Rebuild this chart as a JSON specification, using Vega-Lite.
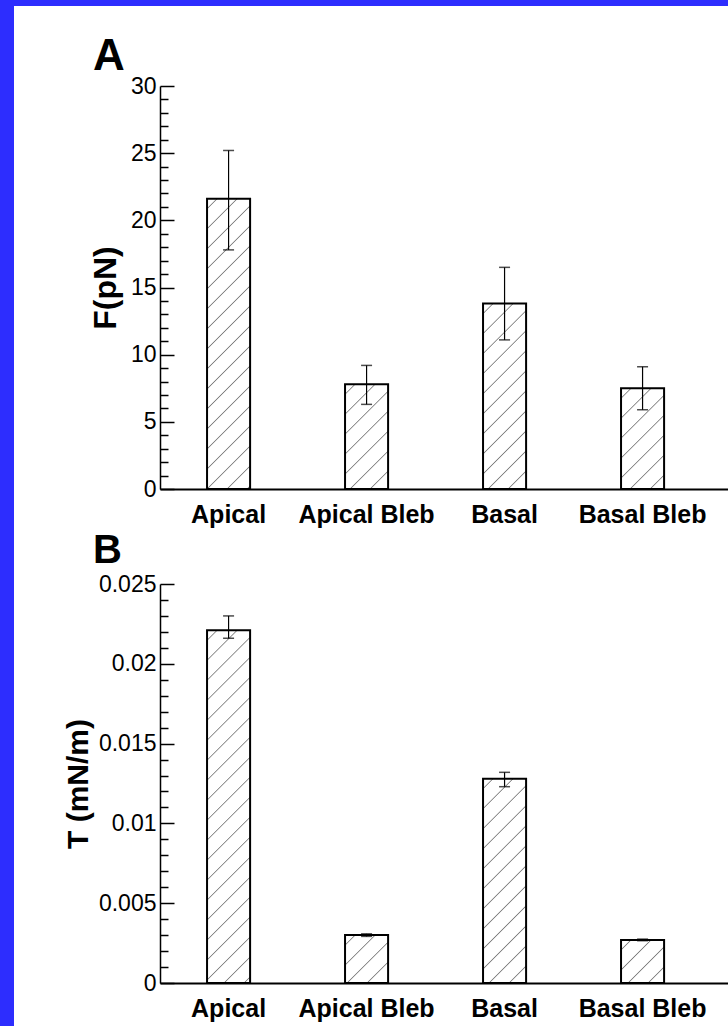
{
  "$schema": "https://vega.github.io/schema/vega-lite/v6.json",
  "background": "#2d2dfe",
  "padding": {"left": 14, "top": 6, "right": 0, "bottom": 0},
  "spacing": 0,
  "config": {
    "view": {"fill": "white", "stroke": null},
    "font": "Liberation Sans"
  },
  "vconcat": [
    {
      "width": 714,
      "height": 524,
      "title": {"text": "A", "anchor": "start", "frame": "group", "fontSize": 44, "font": "Liberation Sans", "fontWeight": "bold", "color": "black", "offset": -73, "dx": 79},
      "data": {"values": [
        {"cond": "Apical", "F": 21.6, "lo": 17.8, "hi": 25.2},
        {"cond": "Apical Bleb", "F": 7.8, "lo": 6.3, "hi": 9.2},
        {"cond": "Basal", "F": 13.8, "lo": 11.1, "hi": 16.5},
        {"cond": "Basal Bleb", "F": 7.5, "lo": 5.9, "hi": 9.1}
      ]},
      "encoding": {
        "x": {"field": "cond", "type": "nominal", "sort": null,
          "scale": {"domain": ["Apical", "Apical Bleb", "Basal", "Basal Bleb"], "range": [146, 714], "paddingInner": 0.688, "paddingOuter": 0.402, "align": 0.424},
          "axis": {"orient": "bottom", "offset": -41, "ticks": false, "domain": true, "domainColor": "black", "domainWidth": 2, "labelFont": "Liberation Sans", "labelFontSize": 25, "labelFontWeight": "bold", "labelColor": "black", "labelPadding": 13, "labelAngle": 0, "title": null}}
      },
      "layer": [
        {
          "transform": [{"filter": "datum.cond === 'Apical'"}],
          "mark": {"type": "bar", "stroke": "black", "strokeWidth": 2,
            "fill": {"gradient": "linear", "x1": 0, "y1": 0, "x2": 0.1666, "y2": 1.1236, "stops": [
              {"offset": 0.0264, "color": "white"}, {"offset": 0.0300, "color": "#808080"}, {"offset": 0.0336, "color": "white"},
              {"offset": 0.0865, "color": "white"}, {"offset": 0.0901, "color": "#808080"}, {"offset": 0.0937, "color": "white"},
              {"offset": 0.1466, "color": "white"}, {"offset": 0.1502, "color": "#808080"}, {"offset": 0.1538, "color": "white"},
              {"offset": 0.2066, "color": "white"}, {"offset": 0.2102, "color": "#808080"}, {"offset": 0.2138, "color": "white"},
              {"offset": 0.2667, "color": "white"}, {"offset": 0.2703, "color": "#808080"}, {"offset": 0.2739, "color": "white"},
              {"offset": 0.3267, "color": "white"}, {"offset": 0.3303, "color": "#808080"}, {"offset": 0.3339, "color": "white"},
              {"offset": 0.3868, "color": "white"}, {"offset": 0.3904, "color": "#808080"}, {"offset": 0.3940, "color": "white"},
              {"offset": 0.4469, "color": "white"}, {"offset": 0.4505, "color": "#808080"}, {"offset": 0.4541, "color": "white"},
              {"offset": 0.5069, "color": "white"}, {"offset": 0.5105, "color": "#808080"}, {"offset": 0.5141, "color": "white"},
              {"offset": 0.5670, "color": "white"}, {"offset": 0.5706, "color": "#808080"}, {"offset": 0.5742, "color": "white"},
              {"offset": 0.6270, "color": "white"}, {"offset": 0.6306, "color": "#808080"}, {"offset": 0.6342, "color": "white"},
              {"offset": 0.6871, "color": "white"}, {"offset": 0.6907, "color": "#808080"}, {"offset": 0.6943, "color": "white"},
              {"offset": 0.7472, "color": "white"}, {"offset": 0.7508, "color": "#808080"}, {"offset": 0.7544, "color": "white"},
              {"offset": 0.8072, "color": "white"}, {"offset": 0.8108, "color": "#808080"}, {"offset": 0.8144, "color": "white"},
              {"offset": 0.8673, "color": "white"}, {"offset": 0.8709, "color": "#808080"}, {"offset": 0.8745, "color": "white"},
              {"offset": 0.9273, "color": "white"}, {"offset": 0.9309, "color": "#808080"}, {"offset": 0.9345, "color": "white"},
              {"offset": 0.9874, "color": "white"}, {"offset": 0.9910, "color": "#808080"}, {"offset": 0.9946, "color": "white"}
            ]}},
          "encoding": {
            "y": {"field": "F", "type": "quantitative",
              "scale": {"domain": [0, 30], "range": [483, 80], "nice": false, "zero": true},
              "axis": {"orient": "left", "offset": -146, "values": [0, 5, 10, 15, 20, 25, 30], "labelExpr": "'' + datum.value", "tickSize": -14, "tickWidth": 1.5, "tickColor": "black", "domain": true, "domainColor": "black", "domainWidth": 1.5, "labelFont": "Liberation Sans", "labelFontSize": 23, "labelColor": "black", "labelPadding": 18, "grid": false, "title": "F(pN)", "titleFont": "Liberation Sans", "titleFontSize": 32, "titleFontWeight": "bold", "titleColor": "black", "titlePadding": 8}
            }
          }
        },
        {
          "transform": [{"filter": "datum.cond === 'Apical Bleb'"}],
          "mark": {"type": "bar", "stroke": "black", "strokeWidth": 2,
            "fill": {"gradient": "linear", "x1": 0, "y1": 0, "x2": 0.4943, "y2": 1.2071, "stops": [
              {"offset": 0.0595, "color": "white"}, {"offset": 0.0676, "color": "#808080"}, {"offset": 0.0757, "color": "white"},
              {"offset": 0.1946, "color": "white"}, {"offset": 0.2027, "color": "#808080"}, {"offset": 0.2108, "color": "white"},
              {"offset": 0.3297, "color": "white"}, {"offset": 0.3378, "color": "#808080"}, {"offset": 0.3459, "color": "white"},
              {"offset": 0.4649, "color": "white"}, {"offset": 0.4730, "color": "#808080"}, {"offset": 0.4811, "color": "white"},
              {"offset": 0.6000, "color": "white"}, {"offset": 0.6081, "color": "#808080"}, {"offset": 0.6162, "color": "white"},
              {"offset": 0.7351, "color": "white"}, {"offset": 0.7432, "color": "#808080"}, {"offset": 0.7513, "color": "white"},
              {"offset": 0.8703, "color": "white"}, {"offset": 0.8784, "color": "#808080"}, {"offset": 0.8865, "color": "white"}
            ]}},
          "encoding": {"y": {"field": "F", "type": "quantitative", "axis": null}}
        },
        {
          "transform": [{"filter": "datum.cond === 'Basal'"}],
          "mark": {"type": "bar", "stroke": "black", "strokeWidth": 2,
            "fill": {"gradient": "linear", "x1": 0, "y1": 0, "x2": 0.2718, "y2": 1.1693, "stops": [
              {"offset": 0.0386, "color": "white"}, {"offset": 0.0439, "color": "#808080"}, {"offset": 0.0492, "color": "white"},
              {"offset": 0.1263, "color": "white"}, {"offset": 0.1316, "color": "#808080"}, {"offset": 0.1369, "color": "white"},
              {"offset": 0.2140, "color": "white"}, {"offset": 0.2193, "color": "#808080"}, {"offset": 0.2246, "color": "white"},
              {"offset": 0.3017, "color": "white"}, {"offset": 0.3070, "color": "#808080"}, {"offset": 0.3123, "color": "white"},
              {"offset": 0.3894, "color": "white"}, {"offset": 0.3947, "color": "#808080"}, {"offset": 0.4000, "color": "white"},
              {"offset": 0.4772, "color": "white"}, {"offset": 0.4825, "color": "#808080"}, {"offset": 0.4878, "color": "white"},
              {"offset": 0.5649, "color": "white"}, {"offset": 0.5702, "color": "#808080"}, {"offset": 0.5755, "color": "white"},
              {"offset": 0.6526, "color": "white"}, {"offset": 0.6579, "color": "#808080"}, {"offset": 0.6632, "color": "white"},
              {"offset": 0.7403, "color": "white"}, {"offset": 0.7456, "color": "#808080"}, {"offset": 0.7509, "color": "white"},
              {"offset": 0.8280, "color": "white"}, {"offset": 0.8333, "color": "#808080"}, {"offset": 0.8386, "color": "white"},
              {"offset": 0.9158, "color": "white"}, {"offset": 0.9211, "color": "#808080"}, {"offset": 0.9264, "color": "white"}
            ]}},
          "encoding": {"y": {"field": "F", "type": "quantitative", "axis": null}}
        },
        {
          "transform": [{"filter": "datum.cond === 'Basal Bleb'"}],
          "mark": {"type": "bar", "stroke": "black", "strokeWidth": 2,
            "fill": {"gradient": "linear", "x1": 0, "y1": 0, "x2": 0.5139, "y2": 1.2070, "stops": [
              {"offset": 0.0611, "color": "white"}, {"offset": 0.0694, "color": "#808080"}, {"offset": 0.0777, "color": "white"},
              {"offset": 0.2000, "color": "white"}, {"offset": 0.2083, "color": "#808080"}, {"offset": 0.2166, "color": "white"},
              {"offset": 0.3389, "color": "white"}, {"offset": 0.3472, "color": "#808080"}, {"offset": 0.3555, "color": "white"},
              {"offset": 0.4778, "color": "white"}, {"offset": 0.4861, "color": "#808080"}, {"offset": 0.4944, "color": "white"},
              {"offset": 0.6167, "color": "white"}, {"offset": 0.6250, "color": "#808080"}, {"offset": 0.6333, "color": "white"},
              {"offset": 0.7556, "color": "white"}, {"offset": 0.7639, "color": "#808080"}, {"offset": 0.7722, "color": "white"},
              {"offset": 0.8945, "color": "white"}, {"offset": 0.9028, "color": "#808080"}, {"offset": 0.9111, "color": "white"}
            ]}},
          "encoding": {"y": {"field": "F", "type": "quantitative", "axis": null}}
        },
        {
          "mark": {"type": "rule", "stroke": "black", "strokeWidth": 1.2},
          "encoding": {
            "y": {"field": "lo", "type": "quantitative",
              "axis": {"orient": "left", "offset": -146, "values": [1, 2, 3, 4, 6, 7, 8, 9, 11, 12, 13, 14, 16, 17, 18, 19, 21, 22, 23, 24, 26, 27, 28, 29], "tickSize": -8, "tickWidth": 1.5, "tickColor": "black", "labels": false, "domain": false, "grid": false, "title": null}},
            "y2": {"field": "hi"}
          }
        },
        {
          "mark": {"type": "tick", "color": "black", "size": 11, "thickness": 1.5},
          "encoding": {"y": {"field": "lo", "type": "quantitative", "axis": null}}
        },
        {
          "mark": {"type": "tick", "color": "black", "size": 11, "thickness": 1.5},
          "encoding": {"y": {"field": "hi", "type": "quantitative", "axis": null}}
        }
      ],
      "resolve": {"axis": {"y": "independent"}}
    },
    {
      "width": 714,
      "height": 496,
      "title": {"text": "B", "anchor": "start", "frame": "group", "fontSize": 40, "font": "Liberation Sans", "fontWeight": "bold", "color": "black", "offset": -41, "dx": 79},
      "data": {"values": [
        {"cond": "Apical", "T": 0.0221, "lo": 0.0216, "hi": 0.0230},
        {"cond": "Apical Bleb", "T": 0.0030, "lo": 0.00292, "hi": 0.00308},
        {"cond": "Basal", "T": 0.0128, "lo": 0.0123, "hi": 0.0132},
        {"cond": "Basal Bleb", "T": 0.0027, "lo": 0.00265, "hi": 0.00275}
      ]},
      "encoding": {
        "x": {"field": "cond", "type": "nominal", "sort": null,
          "scale": {"domain": ["Apical", "Apical Bleb", "Basal", "Basal Bleb"], "range": [146, 714], "paddingInner": 0.688, "paddingOuter": 0.402, "align": 0.424},
          "axis": {"orient": "bottom", "offset": -43, "ticks": false, "domain": true, "domainColor": "black", "domainWidth": 2, "labelFont": "Liberation Sans", "labelFontSize": 25, "labelFontWeight": "bold", "labelColor": "black", "labelPadding": 13, "labelAngle": 0, "title": null}}
      },
      "layer": [
        {
          "transform": [{"filter": "datum.cond === 'Apical'"}],
          "mark": {"type": "bar", "stroke": "black", "strokeWidth": 2,
            "fill": {"gradient": "linear", "x1": 0, "y1": 0, "x2": 0.1347, "y2": 1.1054, "stops": [
              {"offset": 0.0223, "color": "white"}, {"offset": 0.0253, "color": "#808080"}, {"offset": 0.0283, "color": "white"},
              {"offset": 0.0728, "color": "white"}, {"offset": 0.0758, "color": "#808080"}, {"offset": 0.0788, "color": "white"},
              {"offset": 0.1233, "color": "white"}, {"offset": 0.1263, "color": "#808080"}, {"offset": 0.1293, "color": "white"},
              {"offset": 0.1738, "color": "white"}, {"offset": 0.1768, "color": "#808080"}, {"offset": 0.1798, "color": "white"},
              {"offset": 0.2243, "color": "white"}, {"offset": 0.2273, "color": "#808080"}, {"offset": 0.2303, "color": "white"},
              {"offset": 0.2748, "color": "white"}, {"offset": 0.2778, "color": "#808080"}, {"offset": 0.2808, "color": "white"},
              {"offset": 0.3253, "color": "white"}, {"offset": 0.3283, "color": "#808080"}, {"offset": 0.3313, "color": "white"},
              {"offset": 0.3758, "color": "white"}, {"offset": 0.3788, "color": "#808080"}, {"offset": 0.3818, "color": "white"},
              {"offset": 0.4263, "color": "white"}, {"offset": 0.4293, "color": "#808080"}, {"offset": 0.4323, "color": "white"},
              {"offset": 0.4768, "color": "white"}, {"offset": 0.4798, "color": "#808080"}, {"offset": 0.4828, "color": "white"},
              {"offset": 0.5273, "color": "white"}, {"offset": 0.5303, "color": "#808080"}, {"offset": 0.5333, "color": "white"},
              {"offset": 0.5778, "color": "white"}, {"offset": 0.5808, "color": "#808080"}, {"offset": 0.5838, "color": "white"},
              {"offset": 0.6283, "color": "white"}, {"offset": 0.6313, "color": "#808080"}, {"offset": 0.6343, "color": "white"},
              {"offset": 0.6788, "color": "white"}, {"offset": 0.6818, "color": "#808080"}, {"offset": 0.6848, "color": "white"},
              {"offset": 0.7293, "color": "white"}, {"offset": 0.7323, "color": "#808080"}, {"offset": 0.7353, "color": "white"},
              {"offset": 0.7798, "color": "white"}, {"offset": 0.7828, "color": "#808080"}, {"offset": 0.7858, "color": "white"},
              {"offset": 0.8303, "color": "white"}, {"offset": 0.8333, "color": "#808080"}, {"offset": 0.8363, "color": "white"},
              {"offset": 0.8808, "color": "white"}, {"offset": 0.8838, "color": "#808080"}, {"offset": 0.8868, "color": "white"},
              {"offset": 0.9313, "color": "white"}, {"offset": 0.9343, "color": "#808080"}, {"offset": 0.9373, "color": "white"},
              {"offset": 0.9818, "color": "white"}, {"offset": 0.9848, "color": "#808080"}, {"offset": 0.9878, "color": "white"}
            ]}},
          "encoding": {
            "y": {"field": "T", "type": "quantitative",
              "scale": {"domain": [0, 0.025], "range": [453, 54], "nice": false, "zero": true},
              "axis": {"orient": "left", "offset": -146, "values": [0, 0.005, 0.01, 0.015, 0.02, 0.025], "labelExpr": "'' + datum.value", "tickSize": -14, "tickWidth": 1.5, "tickColor": "black", "domain": true, "domainColor": "black", "domainWidth": 1.5, "labelFont": "Liberation Sans", "labelFontSize": 23, "labelColor": "black", "labelPadding": 18, "grid": false, "title": "T (mN/m)", "titleFont": "Liberation Sans", "titleFontSize": 30, "titleFontWeight": "bold", "titleColor": "black", "titlePadding": 5}
            }
          }
        },
        {
          "transform": [{"filter": "datum.cond === 'Apical Bleb'"}],
          "mark": {"type": "bar", "stroke": "black", "strokeWidth": 2,
            "fill": {"gradient": "linear", "x1": 0, "y1": 0, "x2": 0.9422, "y2": 1.0518, "stops": [
              {"offset": 0.0967, "color": "white"}, {"offset": 0.1099, "color": "#808080"}, {"offset": 0.1231, "color": "white"},
              {"offset": 0.3165, "color": "white"}, {"offset": 0.3297, "color": "#808080"}, {"offset": 0.3429, "color": "white"},
              {"offset": 0.5363, "color": "white"}, {"offset": 0.5495, "color": "#808080"}, {"offset": 0.5627, "color": "white"},
              {"offset": 0.7560, "color": "white"}, {"offset": 0.7692, "color": "#808080"}, {"offset": 0.7824, "color": "white"}
            ]}},
          "encoding": {"y": {"field": "T", "type": "quantitative", "axis": null}}
        },
        {
          "transform": [{"filter": "datum.cond === 'Basal'"}],
          "mark": {"type": "bar", "stroke": "black", "strokeWidth": 2,
            "fill": {"gradient": "linear", "x1": 0, "y1": 0, "x2": 0.2444, "y2": 1.1593, "stops": [
              {"offset": 0.0356, "color": "white"}, {"offset": 0.0405, "color": "#808080"}, {"offset": 0.0454, "color": "white"},
              {"offset": 0.1166, "color": "white"}, {"offset": 0.1215, "color": "#808080"}, {"offset": 0.1264, "color": "white"},
              {"offset": 0.1975, "color": "white"}, {"offset": 0.2024, "color": "#808080"}, {"offset": 0.2073, "color": "white"},
              {"offset": 0.2785, "color": "white"}, {"offset": 0.2834, "color": "#808080"}, {"offset": 0.2883, "color": "white"},
              {"offset": 0.3595, "color": "white"}, {"offset": 0.3644, "color": "#808080"}, {"offset": 0.3693, "color": "white"},
              {"offset": 0.4404, "color": "white"}, {"offset": 0.4453, "color": "#808080"}, {"offset": 0.4502, "color": "white"},
              {"offset": 0.5214, "color": "white"}, {"offset": 0.5263, "color": "#808080"}, {"offset": 0.5312, "color": "white"},
              {"offset": 0.6024, "color": "white"}, {"offset": 0.6073, "color": "#808080"}, {"offset": 0.6122, "color": "white"},
              {"offset": 0.6834, "color": "white"}, {"offset": 0.6883, "color": "#808080"}, {"offset": 0.6932, "color": "white"},
              {"offset": 0.7643, "color": "white"}, {"offset": 0.7692, "color": "#808080"}, {"offset": 0.7741, "color": "white"},
              {"offset": 0.8453, "color": "white"}, {"offset": 0.8502, "color": "#808080"}, {"offset": 0.8551, "color": "white"},
              {"offset": 0.9263, "color": "white"}, {"offset": 0.9312, "color": "#808080"}, {"offset": 0.9361, "color": "white"}
            ]}},
          "encoding": {"y": {"field": "T", "type": "quantitative", "axis": null}}
        },
        {
          "transform": [{"filter": "datum.cond === 'Basal Bleb'"}],
          "mark": {"type": "bar", "stroke": "black", "strokeWidth": 2,
            "fill": {"gradient": "linear", "x1": 0, "y1": 0, "x2": 1.0, "y2": 1.0, "stops": [
              {"offset": 0.1023, "color": "white"}, {"offset": 0.1163, "color": "#808080"}, {"offset": 0.1303, "color": "white"},
              {"offset": 0.3348, "color": "white"}, {"offset": 0.3488, "color": "#808080"}, {"offset": 0.3628, "color": "white"},
              {"offset": 0.5674, "color": "white"}, {"offset": 0.5814, "color": "#808080"}, {"offset": 0.5954, "color": "white"},
              {"offset": 0.8000, "color": "white"}, {"offset": 0.8140, "color": "#808080"}, {"offset": 0.8280, "color": "white"}
            ]}},
          "encoding": {"y": {"field": "T", "type": "quantitative", "axis": null}}
        },
        {
          "mark": {"type": "rule", "stroke": "black", "strokeWidth": 1.2},
          "encoding": {
            "y": {"field": "lo", "type": "quantitative",
              "axis": {"orient": "left", "offset": -146, "values": [0.001, 0.002, 0.003, 0.004, 0.006, 0.007, 0.008, 0.009, 0.011, 0.012, 0.013, 0.014, 0.016, 0.017, 0.018, 0.019, 0.021, 0.022, 0.023, 0.024], "tickSize": -8, "tickWidth": 1.5, "tickColor": "black", "labels": false, "domain": false, "grid": false, "title": null}},
            "y2": {"field": "hi"}
          }
        },
        {
          "mark": {"type": "tick", "color": "black", "size": 11, "thickness": 1.5},
          "encoding": {"y": {"field": "lo", "type": "quantitative", "axis": null}}
        },
        {
          "mark": {"type": "tick", "color": "black", "size": 11, "thickness": 1.5},
          "encoding": {"y": {"field": "hi", "type": "quantitative", "axis": null}}
        }
      ],
      "resolve": {"axis": {"y": "independent"}}
    }
  ]
}
